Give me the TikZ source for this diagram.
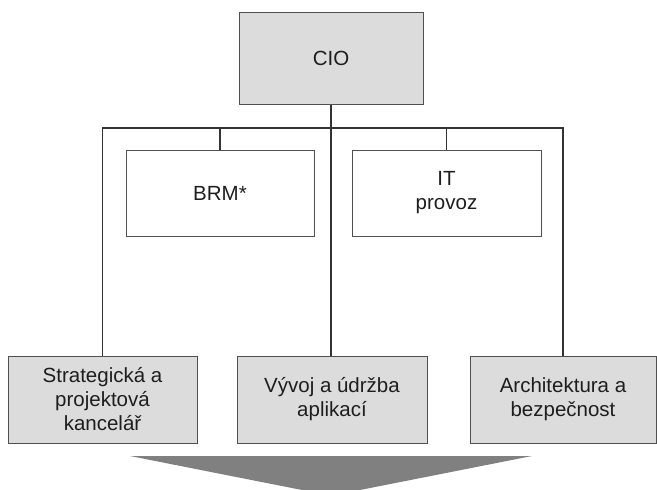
\documentclass[tikz,border=0pt]{standalone}
\usepackage{fontspec}
\setmainfont{Liberation Sans}
\definecolor{boxfill}{HTML}{DCDCDC}
\definecolor{boxline}{HTML}{505050}
\definecolor{wireline}{HTML}{333333}
\definecolor{flowgray}{HTML}{808080}
\definecolor{textcol}{HTML}{1E1E1E}
\begin{document}
\begin{tikzpicture}[x=1pt,y=-1pt,
  unit/.style={draw=boxline,line width=1pt,fill=boxfill,align=center,
    text=textcol,font=\fontsize{20.5}{24}\selectfont,inner sep=0pt},
  staff/.style={unit,fill=white},
  wire/.style={draw=wireline,line width=1.4pt}]
\useasboundingbox (0,0) rectangle (657,490);
% boxes
\node[unit,minimum width=184pt,minimum height=92pt] (cio) at (331,58) {CIO};
\node[staff,minimum width=188pt,minimum height=86pt] (brm) at (220,193) {BRM*};
\node[staff,minimum width=189pt,minimum height=86pt] (it) at (446.5,193) {IT\\provoz};
\node[unit,minimum width=189pt,minimum height=87pt] (strat) at (102.5,399.5) {Strategická a\\projektová\\kancelář};
\node[unit,minimum width=190pt,minimum height=87pt] (vyvoj) at (332,399.5) {Vývoj a údržba\\aplikací};
\node[unit,minimum width=186pt,minimum height=87pt] (arch) at (563,399.5) {Architektura a\\bezpečnost};
% connectors
\coordinate (bus) at (331,128);
\draw[wire] (cio.south) -- (bus);
\draw[wire] (bus) -| (strat.north);
\draw[wire] (bus) -| (arch.north);
\draw[wire] (bus) -| (brm.north);
\draw[wire] (bus) -| (it.north);
\draw[wire] (bus) -- (vyvoj.north -| bus);
% downward flow shape
\fill[flowgray] (130,456) -- (532,456) -- (360,490) -- (302,490) -- cycle;
\end{tikzpicture}
\end{document}
